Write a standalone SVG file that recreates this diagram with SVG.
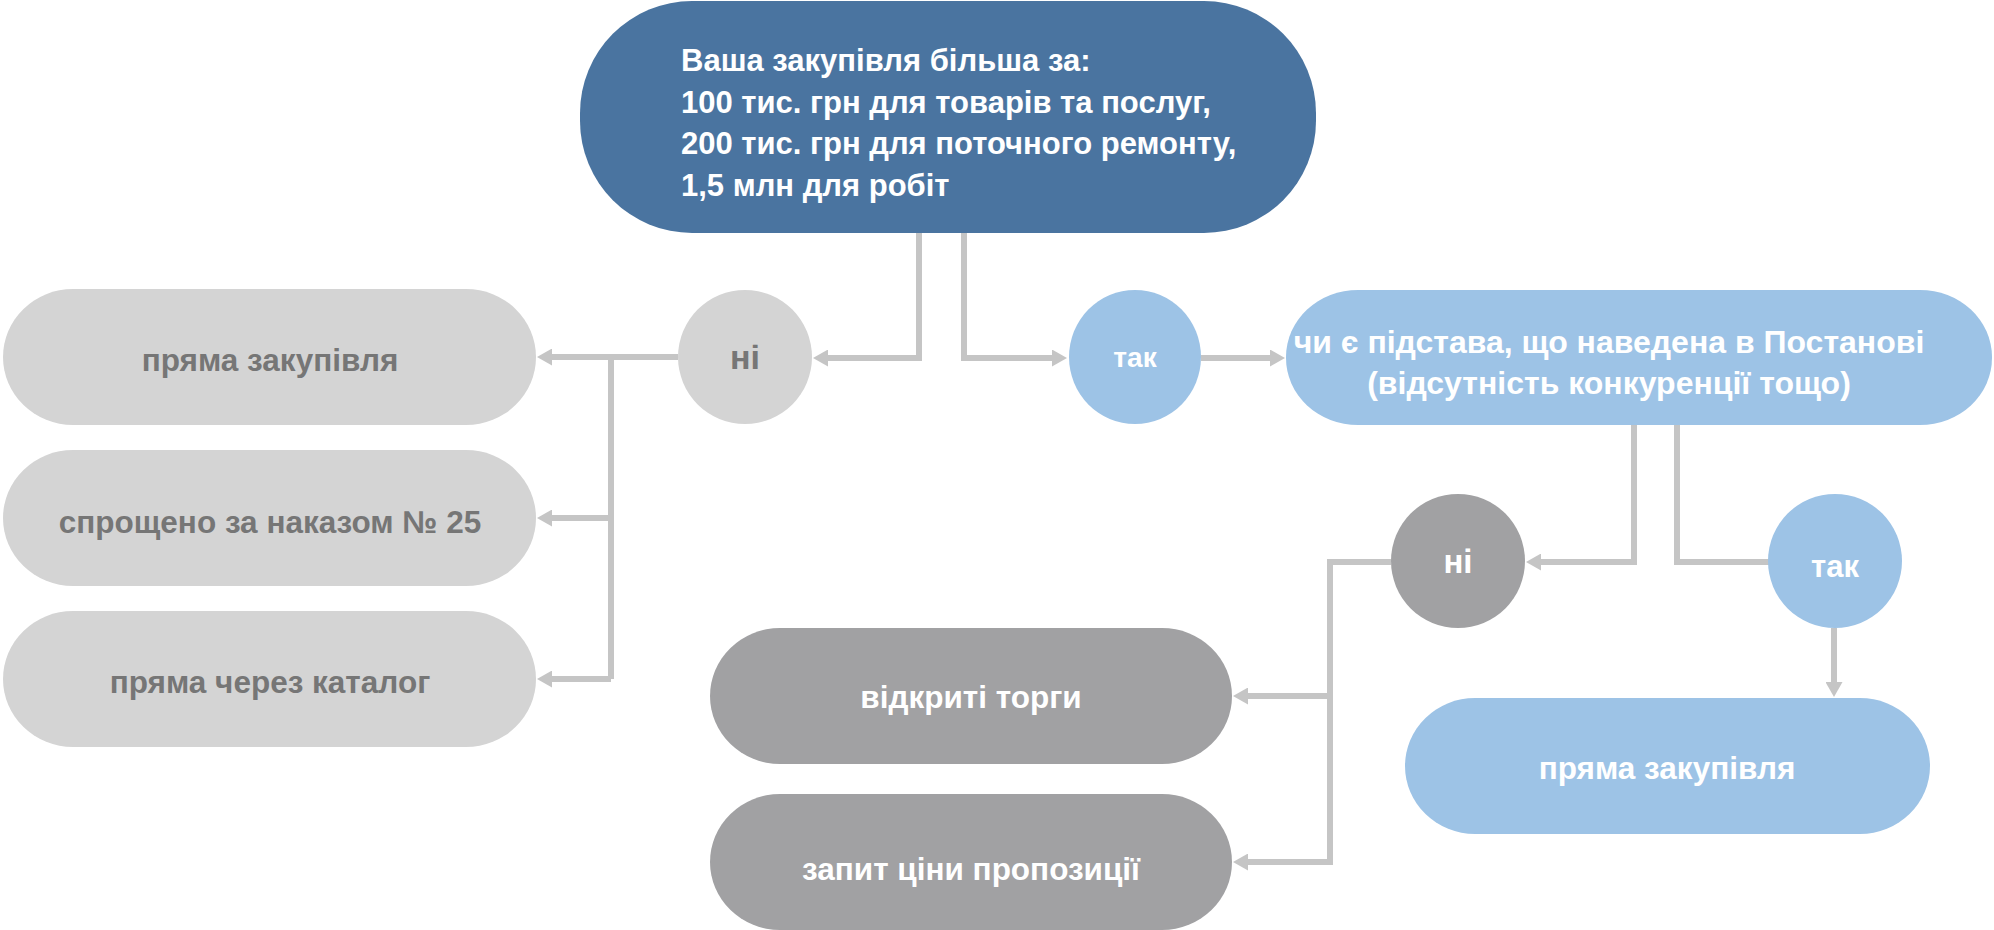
<svg xmlns="http://www.w3.org/2000/svg" width="1994" height="930" viewBox="0 0 1994 930">
<defs>
<marker id="ah" markerUnits="userSpaceOnUse" markerWidth="15" markerHeight="17" refX="1" refY="8.5" orient="auto">
<path d="M0,0 L15,8.5 L0,17 z" fill="#C5C5C5"/>
</marker>
<style>
.t{font-family:"Liberation Sans",Arial,sans-serif;font-weight:bold}
.w{fill:#FFFFFF}
.g{fill:#767676}
.c{stroke:#C5C5C5;stroke-width:6;fill:none;stroke-linejoin:miter}
.a{marker-end:url(#ah)}
.db{fill:#4A74A0}
.lb{fill:#9DC3E6}
.lg{fill:#D4D4D4}
.dg{fill:#A1A1A3}
</style>
</defs>
<rect width="1994" height="930" fill="#FFFFFF"/>
<g id="connectors">
<path class="c a" d="M919 233 V358 H827"/>
<path class="c a" d="M964 233 V358 H1053"/>
<path class="c a" d="M678 357 H551"/>
<path class="c" d="M611 357 V679"/>
<path class="c a" d="M611 518 H551"/>
<path class="c a" d="M611 679 H551"/>
<path class="c a" d="M1201 358 H1271"/>
<path class="c a" d="M1634 425 V562 H1540"/>
<path class="c" d="M1677 425 V562 H1770"/>
<path class="c" d="M1391 562 H1330 V862"/>
<path class="c a" d="M1330 696 H1247"/>
<path class="c a" d="M1333 862 H1247"/>
<path class="c a" d="M1834 628 V683"/>
</g>
<g id="n-top">
<rect class="db" x="580" y="1" width="736" height="232" rx="112" ry="112"/>
<text class="t w" font-size="31" x="681" y="71">Ваша закупівля більша за:</text>
<text class="t w" font-size="31" x="681" y="113">100 тис. грн для товарів та послуг,</text>
<text class="t w" font-size="31" x="681" y="154">200 тис. грн для поточного ремонту,</text>
<text class="t w" font-size="31" x="681" y="196">1,5 млн для робіт</text>
</g>
<g id="n-no1">
<ellipse class="lg" cx="745" cy="357" rx="67" ry="67"/>
<text class="t g" font-size="34" x="745" y="369" text-anchor="middle">ні</text>
</g>
<g id="n-yes1">
<ellipse class="lb" cx="1135" cy="357" rx="66" ry="67"/>
<text class="t w" font-size="28" x="1135" y="367" text-anchor="middle">так</text>
</g>
<g id="n-direct1">
<rect class="lg" x="3" y="289" width="533" height="136" rx="70" ry="68"/>
<text class="t g" font-size="31.5" x="270" y="371" text-anchor="middle">пряма закупівля</text>
</g>
<g id="n-simpl">
<rect class="lg" x="3" y="450" width="533" height="136" rx="70" ry="68"/>
<text class="t g" font-size="31.5" x="270" y="533" text-anchor="middle">спрощено за наказом № 25</text>
</g>
<g id="n-catalog">
<rect class="lg" x="3" y="611" width="533" height="136" rx="70" ry="68"/>
<text class="t g" font-size="31.5" x="270" y="693" text-anchor="middle">пряма через каталог</text>
</g>
<g id="n-decision">
<rect class="lb" x="1286" y="290" width="706" height="135" rx="72" ry="67"/>
<text class="t w" font-size="32" x="1609" y="353" text-anchor="middle">чи є підстава, що наведена в Постанові</text>
<text class="t w" font-size="32" x="1609" y="394" text-anchor="middle">(відсутність конкуренції тощо)</text>
</g>
<g id="n-no2">
<ellipse class="dg" cx="1458" cy="561" rx="67" ry="67"/>
<text class="t w" font-size="33" x="1458" y="573" text-anchor="middle">ні</text>
</g>
<g id="n-yes2">
<ellipse class="lb" cx="1835" cy="561" rx="67" ry="67"/>
<text class="t w" font-size="31" x="1835" y="577" text-anchor="middle">так</text>
</g>
<g id="n-open">
<rect class="dg" x="710" y="628" width="522" height="136" rx="70" ry="68"/>
<text class="t w" font-size="31.5" x="971" y="708" text-anchor="middle">відкриті торги</text>
</g>
<g id="n-rfq">
<rect class="dg" x="710" y="794" width="522" height="136" rx="70" ry="68"/>
<text class="t w" font-size="31.5" x="971" y="880" text-anchor="middle">запит ціни пропозиції</text>
</g>
<g id="n-direct2">
<rect class="lb" x="1405" y="698" width="525" height="136" rx="70" ry="68"/>
<text class="t w" font-size="31.5" x="1667" y="779" text-anchor="middle">пряма закупівля</text>
</g>
</svg>
